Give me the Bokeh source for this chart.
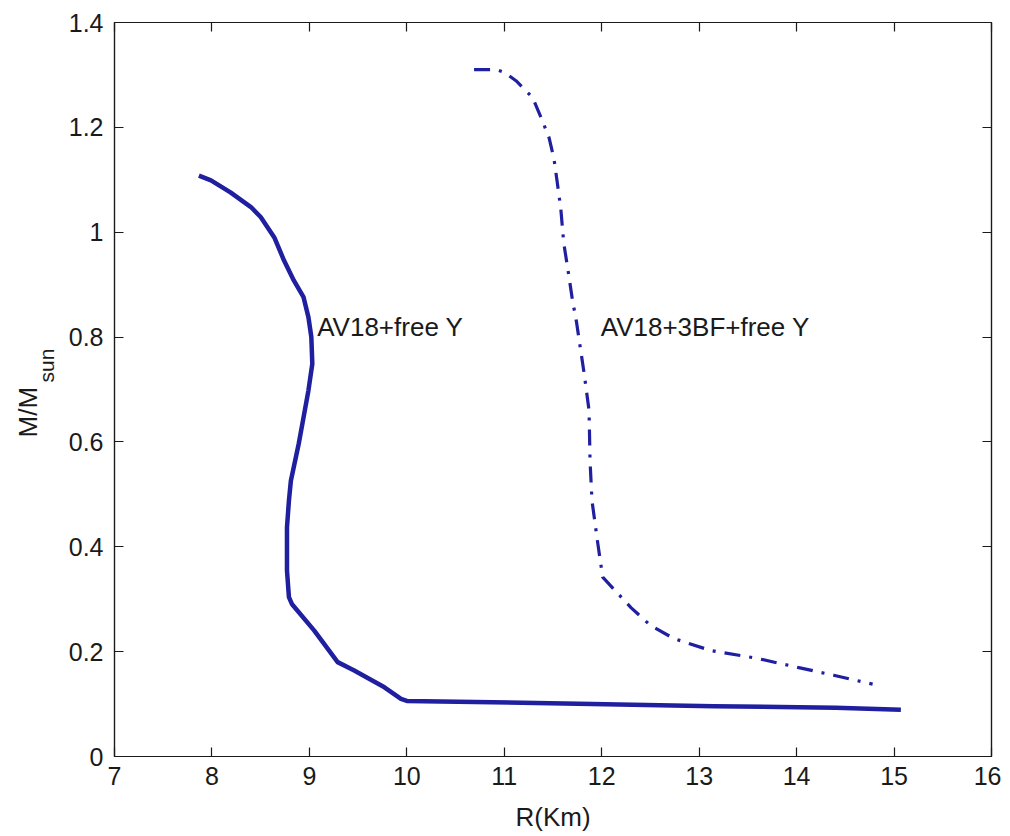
from bokeh.plotting import figure
from bokeh.models import Range1d, FixedTicker, LinearAxis, Label, Title
from bokeh.embed import file_html
from bokeh.resources import INLINE

# --- data ---
av18_r = [7.866, 7.99, 8.19, 8.40, 8.50, 8.64, 8.74, 8.84, 8.94, 8.99, 9.02, 9.03,
          8.99, 8.94, 8.89, 8.81, 8.79, 8.77, 8.77, 8.79, 8.82, 9.05, 9.29, 9.46,
          9.77, 9.94, 10.0, 10.7, 11.9, 13.15, 14.4, 15.07]
av18_m = [1.108, 1.099, 1.076, 1.048, 1.029, 0.990, 0.946, 0.908, 0.876, 0.838, 0.800, 0.749,
          0.698, 0.647, 0.596, 0.526, 0.488, 0.437, 0.355, 0.304, 0.291, 0.240, 0.180, 0.164,
          0.132, 0.110, 0.106, 0.104, 0.100, 0.096, 0.093, 0.089]

av18_3bf_r = [10.69, 10.92, 11.0, 11.12, 11.29, 11.39, 11.46, 11.51, 11.54, 11.58, 11.61,
              11.66, 11.70, 11.74, 11.82, 11.87, 11.88, 11.90, 11.96, 12.01, 12.30, 12.50,
              12.74, 13.12, 13.60, 14.01, 14.38, 14.78]
av18_3bf_m = [1.31, 1.31, 1.305, 1.289, 1.257, 1.213, 1.18, 1.14, 1.10, 1.045, 0.98,
              0.92, 0.87, 0.83, 0.73, 0.66, 0.565, 0.488, 0.406, 0.342, 0.284, 0.25,
              0.225, 0.202, 0.187, 0.170, 0.155, 0.138]

x_ticks = [7, 8, 9, 10, 11, 12, 13, 14, 15, 16]
x_tick_labels = ["7", "8", "9", "10", "11", "12", "13", "14", "15", "16"]
y_ticks = [0, 0.2, 0.4, 0.6, 0.8, 1.0, 1.2, 1.4]
y_tick_labels = ["0", "0.2", "0.4", "0.6", "0.8", "1", "1.2", "1.4"]

curve_labels = ["AV18+free Y", "AV18+3BF+free Y"]
curve_label_r = [9.08, 11.99]
curve_label_m = [0.819, 0.819]

FONT = "Liberation Sans"
BLUE = "#1f1fa0"
INK = "#1a1a1a"

p = figure(
    frame_width=877, frame_height=734,
    x_range=Range1d(7, 16), y_range=Range1d(0, 1.4),
    output_backend="svg", toolbar_location=None,
    min_border_left=114, min_border_top=22, min_border_right=10, min_border_bottom=10,
    background_fill_color="white", border_fill_color="white",
)
p.grid.visible = False
p.outline_line_color = INK
p.outline_line_width = 1.2

def style_axis(ax, ticks, labels, show_labels=True):
    ax.ticker = FixedTicker(ticks=ticks)
    ax.major_label_overrides = {t: l for t, l in zip(ticks, labels)}
    ax.major_tick_in = 9
    ax.major_tick_out = 0
    ax.minor_tick_line_color = None
    ax.major_tick_line_color = INK
    ax.major_tick_line_width = 1.2
    ax.axis_line_color = INK
    ax.axis_line_width = 1.2
    ax.major_label_text_font = FONT
    ax.major_label_text_font_size = "25px"
    ax.major_label_text_color = INK
    if not show_labels:
        ax.major_label_text_alpha = 0
        ax.major_label_text_font_size = "1px"
        ax.major_label_standoff = 0

style_axis(p.xaxis[0], x_ticks, x_tick_labels)
style_axis(p.yaxis[0], y_ticks, y_tick_labels)
p.xaxis[0].major_label_standoff = 10
p.yaxis[0].major_label_standoff = 11
p.xaxis[0].axis_label = "R(Km)"
p.xaxis[0].axis_label_text_font = FONT
p.xaxis[0].axis_label_text_font_size = "26px"
p.xaxis[0].axis_label_text_font_style = "normal"
p.xaxis[0].axis_label_text_color = INK
p.xaxis[0].axis_label_standoff = 14

top_ax = LinearAxis()
right_ax = LinearAxis()
style_axis(top_ax, x_ticks, x_tick_labels, show_labels=False)
style_axis(right_ax, y_ticks, y_tick_labels, show_labels=False)
p.add_layout(top_ax, "above")
p.add_layout(right_ax, "right")

p.line(av18_r, av18_m, line_color=BLUE, line_width=4.5, line_join="round")
p.line(av18_3bf_r, av18_3bf_m, line_color=BLUE, line_width=3.2, line_dash="16 9 3 9")

for t, xr, ym in zip(curve_labels, curve_label_r, curve_label_m):
    p.add_layout(Label(x=xr, y=ym, text=t, text_font=FONT, text_font_size="26px",
                       text_color=INK, text_align="left", text_baseline="alphabetic"))

# y-axis label "M/M_sun" built from two rotated titles on the left
sub_title = Title(text="sun", align="left", offset=374, standoff=15,
                  text_font=FONT, text_font_size="21px", text_font_style="normal",
                  text_color=INK)
main_title = Title(text="M/M", align="left", offset=319, standoff=-34,
                   text_font=FONT, text_font_size="26px", text_font_style="normal",
                   text_color=INK)
p.add_layout(sub_title, "left")
p.add_layout(main_title, "left")

open("out.html", "w").write(file_html(p, INLINE))
